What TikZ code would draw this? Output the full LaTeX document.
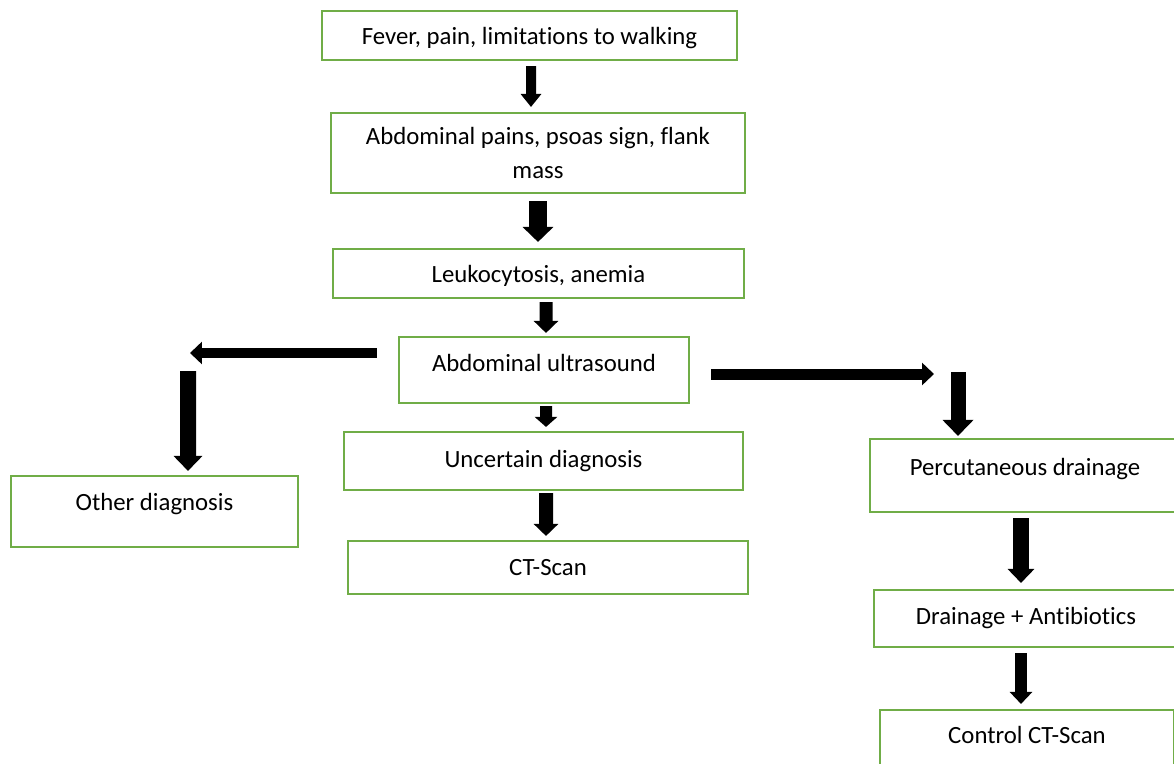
\documentclass[tikz,border=0pt]{standalone}
\usepackage{fontspec}
\setmainfont[Ligatures=NoCommon]{Carlito}
\usetikzlibrary{arrows.meta,positioning,calc}
\definecolor{boxgreen}{RGB}{112,173,71}

\begin{document}
\begin{tikzpicture}[
    x=0.02cm, y=-0.02cm,
    box/.style={draw=boxgreen, line width=1.2pt, fill=white, align=center, inner sep=2pt, font=\fontsize{14.1}{18.8}\selectfont},
    textup/.style={text depth=#1},
    arrow/.style n args={3}{line width=#1, -{Triangle[length=#2, width=#3]}}
]
    \useasboundingbox (0,0) rectangle (1174,764);
    \clip (0,0) rectangle (1174,764);

    % main column
    \node[box, textup=0pt, minimum width=8.3cm, minimum height=0.98cm] (fever) at (529.5,35.5) {Fever, pain, limitations to walking};
    \node[box, minimum width=8.28cm, minimum height=1.6cm] (pains) at (538,153) {Abdominal pains, psoas sign, flank\\mass};
    \node[box, textup=0pt, minimum width=8.22cm, minimum height=0.98cm] (leuko) at (538.5,273.5) {Leukocytosis, anemia};
    \node[box, textup=8pt, minimum width=5.8cm, minimum height=1.32cm] (us) at (544,370) {Abdominal ultrasound};
    \node[box, minimum width=7.98cm, minimum height=1.16cm] (unc) at (543.5,461) {Uncertain diagnosis};
    \node[box, minimum width=8.0cm, minimum height=1.06cm] (ct) at (548,567.5) {CT-Scan};

    % side branches
    \node[box, textup=10.8pt, minimum width=5.74cm, minimum height=1.42cm] (other) at (154.5,511.5) {Other diagnosis};
    \node[box, textup=9.7pt, minimum width=6.2cm, minimum height=1.46cm] (perc) at (1025,475.5) {Percutaneous drainage};
    \node[box, minimum width=6.08cm, minimum height=1.14cm] (drain) at (1026,618.5) {Drainage + Antibiotics};
    \node[box, textup=4pt, minimum width=5.88cm, minimum height=1.14cm] (ctrl) at (1027,738.5) {Control CT-Scan};

    \coordinate (lturn) at (190,353);
    \coordinate (rturn) at (934,374);

    \draw[arrow={0.2cm}{0.26cm}{0.4cm}] ($(fever.south)+(1.5,5)$) -- ($(pains.north)+(-7,-5)$);
    \draw[arrow={0.36cm}{0.3cm}{0.6cm}] ($(pains.south)+(0,7)$) -- ($(leuko.north)+(-0.5,-6)$);
    \draw[arrow={0.26cm}{0.24cm}{0.48cm}] ($(leuko.south)+(7.5,3)$) -- ($(us.north)+(2,-3)$);
    \draw[arrow={0.24cm}{0.2cm}{0.44cm}] ($(us.south)+(2,2)$) -- ($(unc.north)+(2.5,-4)$);
    \draw[arrow={0.28cm}{0.24cm}{0.48cm}] ($(unc.south)+(2.5,2)$) -- ($(ct.north)+(-2,-4)$);

    \draw[arrow={0.2cm}{0.24cm}{0.44cm}] ($(us.west)+(-21,-17)$) -- (lturn);
    \draw[arrow={0.32cm}{0.3cm}{0.56cm}] ($(lturn)+(-2,18)$) -- ($(other.north)+(33.5,-4)$);
    \draw[arrow={0.22cm}{0.24cm}{0.44cm}] ($(us.east)+(21,4)$) -- (rturn);
    \draw[arrow={0.3cm}{0.32cm}{0.6cm}] ($(rturn)+(24,-2)$) -- ($(perc.north)+(-67,-2)$);
    \draw[arrow={0.32cm}{0.28cm}{0.52cm}] ($(perc.south)+(-4,5)$) -- ($(drain.north)+(-5,-6)$);
    \draw[arrow={0.24cm}{0.24cm}{0.44cm}] ($(drain.south)+(-5,5)$) -- ($(ctrl.north)+(-6,-5)$);
\end{tikzpicture}
\end{document}
